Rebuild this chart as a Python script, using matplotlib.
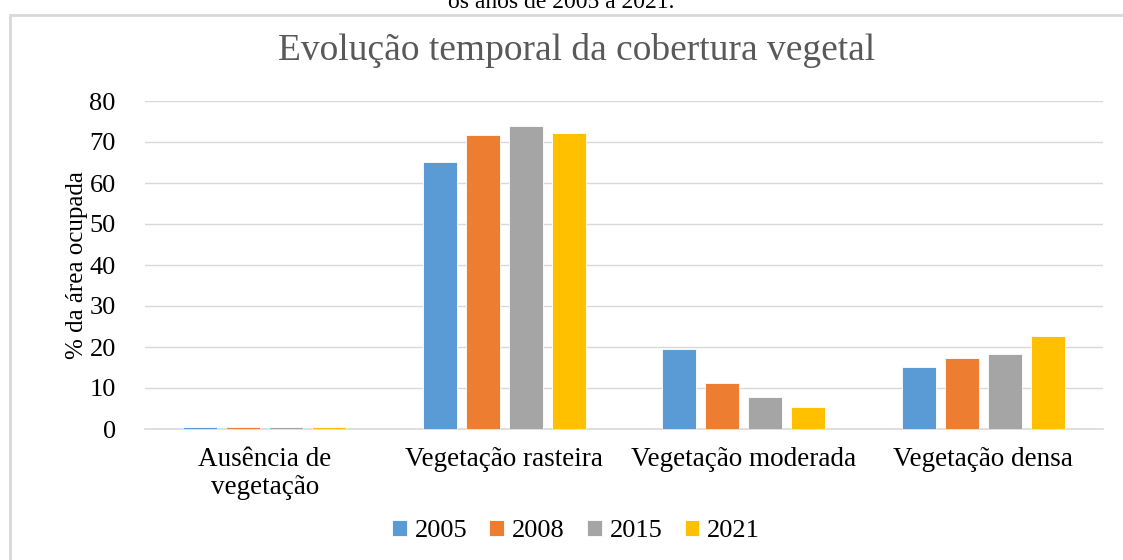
import numpy as np
import matplotlib.pyplot as plt
from matplotlib.patches import Rectangle

# data
categories = ['Ausência de\nvegetação', 'Vegetação rasteira', 'Vegetação moderada', 'Vegetação densa']
years = ['2005', '2008', '2015', '2021']
v2005 = [0.4, 65.2, 19.5, 15.1]
v2008 = [0.4, 71.8, 11.2, 17.3]
v2015 = [0.4, 73.8, 7.8, 18.2]
v2021 = [0.4, 72.1, 5.3, 22.6]
colors = ['#5b9bd5', '#ed7d31', '#a5a5a5', '#ffc000']

plt.rcParams['font.family'] = ['Liberation Serif', 'DejaVu Serif']

fig = plt.figure(figsize=(11.23, 5.6), dpi=100)

# outer frame of the chart box and the cut-off caption above it
fig.patches.append(Rectangle((10 / 1123, -0.05), 1.2, 1 - 15 / 560 + 0.05,
                             transform=fig.transFigure, fill=False,
                             edgecolor='#d9d9d9', linewidth=2))
fig.text(0.5, 1 - 3 / 560, 'os anos de 2005 a 2021.', ha='center', va='center',
         fontsize=17, color='black')

ax = fig.add_axes([145 / 1123, 1 - 429 / 560, 958 / 1123, 328 / 560])

x = np.arange(len(categories))
w = 0.142
step = 0.18
series = [v2005, v2008, v2015, v2021]
for i, (vals, c, yr) in enumerate(zip(series, colors, years)):
    ax.bar(x + (i - 1.5) * step, vals, width=w, color=c, label=yr,
           edgecolor='white', linewidth=0.6, zorder=3)

ax.set_xlim(-0.5, 3.5)
ax.set_ylim(0, 80)
ax.set_yticks(range(0, 81, 10))
ax.set_xticks(x)
ax.set_xticklabels(categories, fontsize=19.5, linespacing=1.15)
ax.tick_params(axis='y', labelsize=19, length=0, pad=21)
ax.tick_params(axis='x', length=0, pad=13)
ax.grid(axis='y', color='#d9d9d9', linewidth=1, zorder=0)
for s in ['top', 'right', 'left']:
    ax.spines[s].set_visible(False)
ax.spines['bottom'].set_color('#d9d9d9')
ax.spines['bottom'].set_linewidth(1.2)

ax.set_ylabel('% da área ocupada', fontsize=18, labelpad=1)

fig.text(577 / 1123, 1 - 51 / 560, 'Evolução temporal da cobertura vegetal',
         ha='center', va='center', fontsize=27, color='#595959')

fig.legend(loc='center', bbox_to_anchor=(576 / 1123, 1 - 531 / 560), ncol=4,
           frameon=False, fontsize=19, handlelength=0.55, handleheight=0.55,
           handletextpad=0.3, columnspacing=0.85)

fig.savefig('out.png', dpi=100)
